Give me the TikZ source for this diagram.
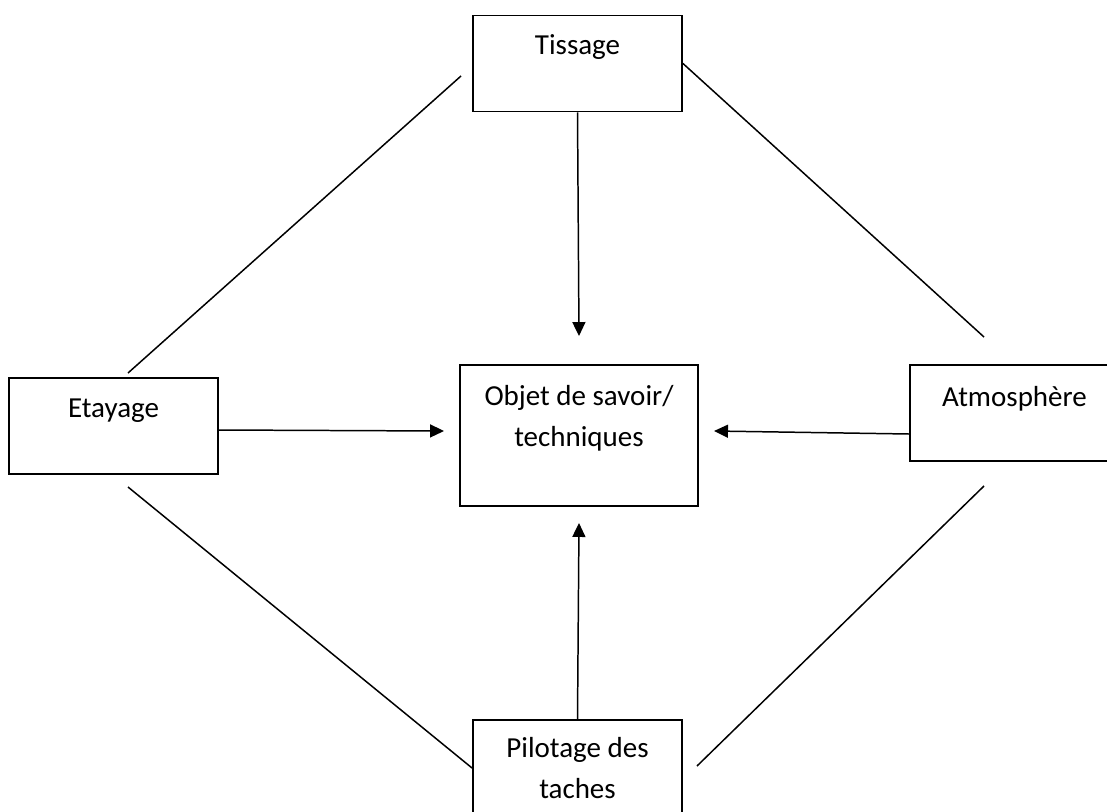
\documentclass[tikz,border=0pt]{standalone}
\usepackage{fontspec}
\setmainfont{Carlito}
\usetikzlibrary{positioning,arrows.meta}
\begin{document}
\begin{tikzpicture}
    [%%%%%%%%%%%%%%%%%%%%%%%%%%%%%%
        box/.style={rectangle,draw=black,line width=1.1pt, minimum width=4.18cm, minimum height=1.92cm},
        txt/.style={inner sep=0pt, align=center, font=\fontsize{16.5}{23.3}\selectfont},
        link/.style={line width=0.85pt},
        arr/.style={line width=0.85pt, -{Triangle[length=0.28cm,width=0.26cm]}},
    ]%%%%%%%%%%%%%%%%%%%%%%%%%%%%%%
\useasboundingbox (0,0) rectangle (22.14,-16.22);
\node[box] (tissage) at (11.55,-1.27) {};
\node[box] (etayage) at (2.27,-8.52) {};
\node[box, minimum width=4.76cm, minimum height=2.82cm] (objet) at (11.58,-8.71) {};
\node[box] (atmos) at (20.29,-8.26) {};
\node[box] (pilotage) at (11.55,-15.36) {};

\node[txt, below=0.4cm of tissage.north] (tissageT) {Tissage};
\node[txt, below=0.44cm of etayage.north] (etayageT) {Etayage};
\node[txt, below=0.42cm of objet.north] (objetT) {Objet de savoir/\\techniques};
\node[txt, below=0.44cm of atmos.north] (atmosT) {Atmosphère};
\node[txt, below=0.36cm of pilotage.north] (pilotageT) {Pilotage des\\taches};

\coordinate (a1) at (9.22,-1.52);
\coordinate (a2) at (2.56,-7.46);
\coordinate (b2) at (19.68,-6.74);
\coordinate (c1) at (2.56,-9.74);
\coordinate (d1) at (19.68,-9.72);
\coordinate (d2) at (13.94,-15.32);

\draw[link] (a1) -- (a2);
\draw[link] (tissage.east) -- (b2);
\draw[link] (c1) -- (pilotage.west);
\draw[link] (d1) -- (d2);

\draw[arr] (tissage.south) -- ([yshift=0.56cm]objet.north);
\draw[arr] ([yshift=-0.08cm]etayage.east) -- ([xshift=-0.3cm,yshift=0.09cm]objet.west);
\draw[arr] ([yshift=-0.42cm]atmos.west) -- ([xshift=0.3cm,yshift=0.09cm]objet.east);
\draw[arr] (pilotage.north) -- ([yshift=-0.32cm]objet.south);
\end{tikzpicture}
\end{document}
